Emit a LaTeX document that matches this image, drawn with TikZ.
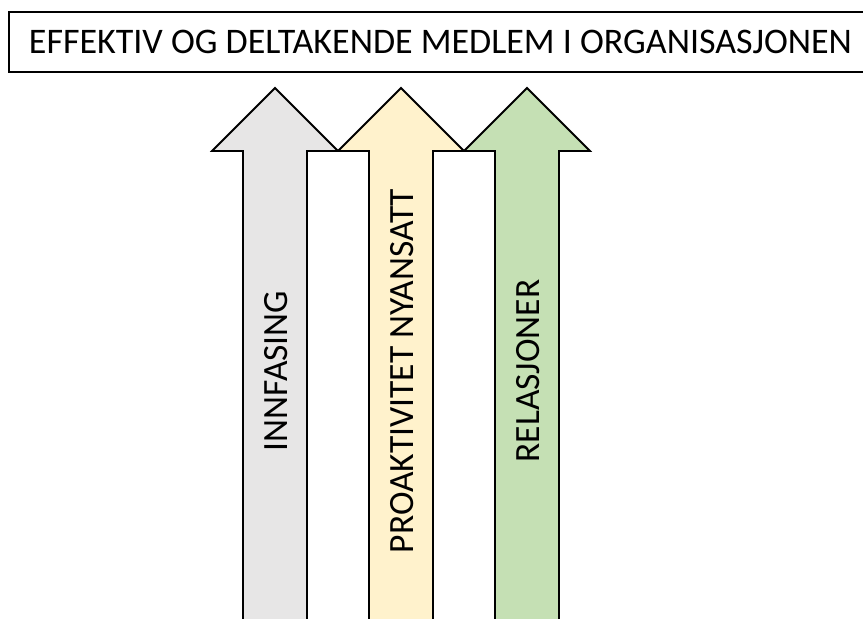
\documentclass[tikz,border=0pt]{standalone}
\usepackage{fontspec}
\setmainfont{Carlito}
\usepackage{tikz}
\definecolor{gra}{HTML}{E7E6E6}
\definecolor{gul}{HTML}{FFF2CC}
\definecolor{gronn}{HTML}{C5E0B4}
\tikzset{
    maal/.style={
           rectangle,
           draw=black, line width=2pt,
           minimum width=863pt,
           minimum height=60pt,
           inner sep=0pt,
           font=\fontsize{36}{40}\selectfont,
           text centered},
    pil/.style={
           draw=black, line width=1.8pt,
           line join=miter},
    piltekst/.style={
           inner sep=0pt,
           font=\fontsize{35.5}{40}\selectfont}
    }
\begin{document}
\begin{tikzpicture}[x=1pt,y=-1pt]
      \useasboundingbox (0,0) rectangle (863,619);
      \clip (0,0) rectangle (863,619);
      \node[maal] (maal) at (440.5,42) {EFFEKTIV OG DELTAKENDE MEDLEM I ORGANISASJONEN};
      \foreach \x/\farge/\tekst [count=\i] in {275/gra/INNFASING, 401/gul/PROAKTIVITET NYANSATT, 527/gronn/RELASJONER}{
        \filldraw[pil,fill=\farge] (\x-32,640) -- (\x-32,151) -- (\x-63,151) -- (\x,88)
              -- (\x+63,151) -- (\x+32,151) -- (\x+32,640);
        \node[piltekst,rotate=90] (pil\i) at (\x+1,371) {\tekst};
      }
\end{tikzpicture}
\end{document}
